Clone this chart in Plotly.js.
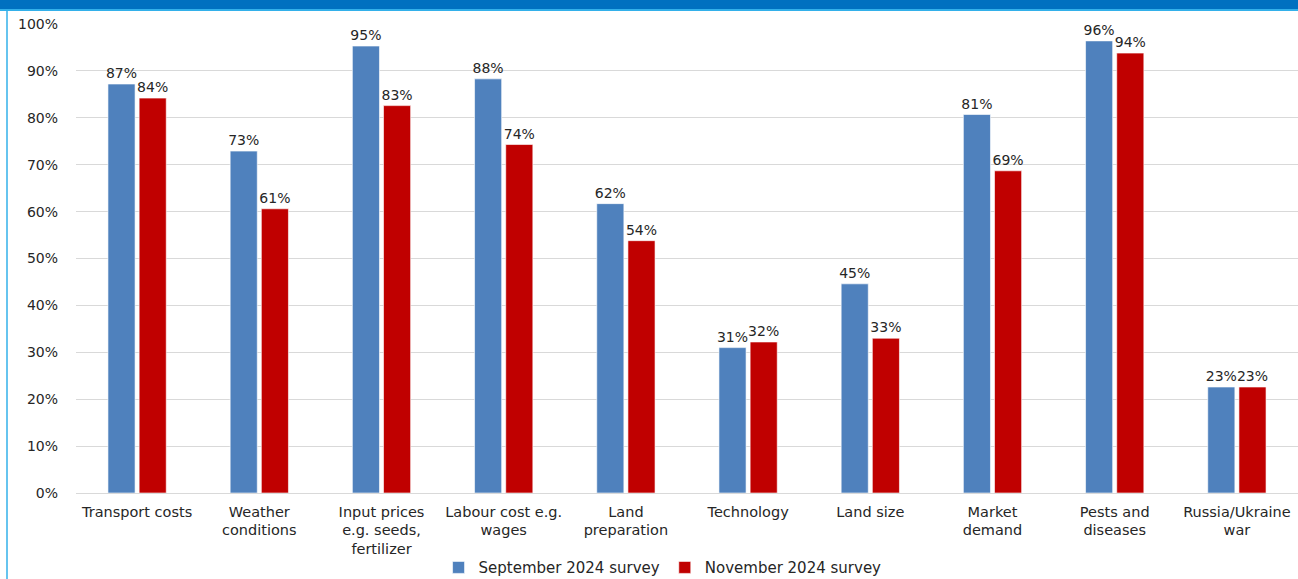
<!DOCTYPE html>
<html>
<head>
<meta charset="utf-8">
<script src="https://cdn.plot.ly/plotly-3.0.1.min.js"></script>
<style>html,body{margin:0;padding:0;background:#fff;}#chart{width:1298px;height:579px;}</style>
</head>
<body>
<div id="chart"></div>
<script>
var categories = ["Transport costs", "Weather<br>conditions", "Input prices<br>e.g. seeds,<br>fertilizer", "Labour cost e.g.<br>wages", "Land<br>preparation", "Technology", "Land size", "Market<br>demand", "Pests and<br>diseases", "Russia/Ukraine<br>war"];
var september2024 = [87.2, 72.9, 95.3, 88.3, 61.7, 31.0, 44.6, 80.7, 96.4, 22.6];
var november2024 = [84.2, 60.6, 82.6, 74.3, 53.8, 32.2, 33.0, 68.7, 93.8, 22.6];
var seriesNames = ["September 2024 survey", "November 2024 survey"];
var yTickVals = [0, 10, 20, 30, 40, 50, 60, 70, 80, 90, 100];
var yTickText = ["0%", "10%", "20%", "30%", "40%", "50%", "60%", "70%", "80%", "90%", "100%"];

var font = "DejaVu Sans, Verdana, sans-serif";
function mk(vals, name, color) {
  return {
    type: "bar", x: categories, y: vals, name: name,
    marker: {color: color, line: {color: "rgba(255,255,255,0.6)", width: 1}},
    texttemplate: "%{y:.0f}%", textposition: "outside", cliponaxis: false, constraintext: "none",
    textfont: {family: font, size: 14, color: "#262626"},
    hoverinfo: "skip"
  };
}
var data = [mk(september2024, seriesNames[0], "#4F81BD"), mk(november2024, seriesNames[1], "#C00000")];
var layout = {
  width: 1298, height: 579,
  margin: {l: 76, r: 0, t: 24, b: 86, autoexpand: false},
  paper_bgcolor: "#fff", plot_bgcolor: "#fff",
  barmode: "group", bargap: 0.49, bargroupgap: 0.13, uniformtext: {mode: false},
  font: {family: font, size: 14, color: "#262626"},
  xaxis: {tickfont: {family: font, size: 14.5, color: "#262626"}, showline: false, ticks: "", ticklabelstandoff: 8, fixedrange: true, automargin: false},
  yaxis: {range: [0, 100], tickvals: yTickVals, ticktext: yTickText, showgrid: true, gridcolor: "#d9d9d9", gridwidth: 1,
          zeroline: true, zerolinecolor: "#d9d9d9", zerolinewidth: 1, ticks: "", ticklen: 0, ticklabelstandoff: 17,
          tickfont: {family: font, size: 14, color: "#262626"}, fixedrange: true, automargin: false},
  showlegend: true,
  legend: {orientation: "h", x: 0.48, xanchor: "center", y: -0.124, yanchor: "top",
           font: {family: font, size: 15, color: "#262626"}, traceorder: "normal", tracegroupgap: 0},
  shapes: [
    {type: "rect", xref: "paper", yref: "paper", x0: -0.07, x1: 1.01, y0: (493-9)/469, y1: 1.06, fillcolor: "#0070C0", line: {width: 0}, layer: "above"},
    {type: "line", xref: "paper", yref: "paper", x0: -0.07, x1: 1.01, y0: (493-10)/469, y1: (493-10)/469, line: {color: "#33B0EA", width: 2}},
    {type: "line", xref: "paper", yref: "paper", x0: (7-76)/1222, x1: (7-76)/1222, y0: (493-10)/469, y1: -0.2, line: {color: "#33B0EA", width: 1.5}}
  ]
};
Plotly.newPlot("chart", data, layout, {displayModeBar: false, staticPlot: true});
</script>
</body>
</html>
